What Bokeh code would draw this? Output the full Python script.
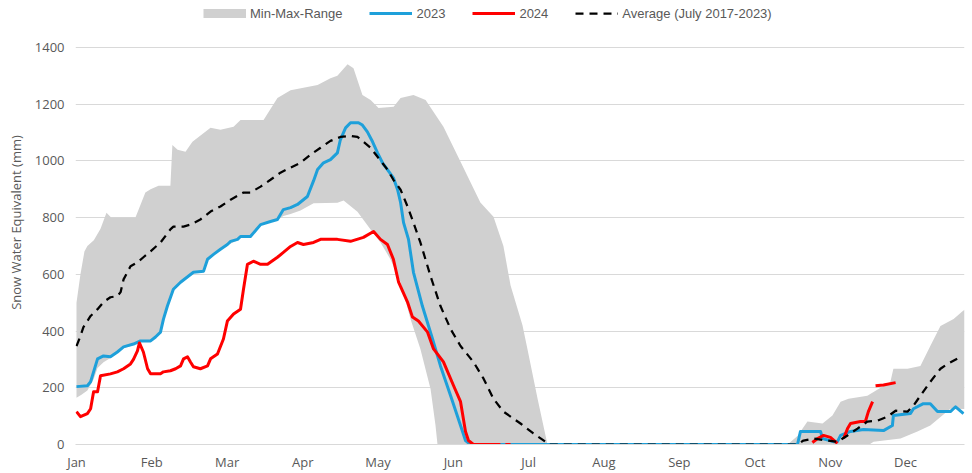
from bokeh.plotting import figure
from bokeh.models import Range1d, FixedTicker, Legend, LegendItem
from bokeh.embed import file_html
from bokeh.resources import INLINE
import numpy as np

# ---- data (x = day of year, 0 = 1 Jan; y = snow water equivalent, mm) ----
month_labels = ["Jan", "Feb", "Mar", "Apr", "May", "Jun", "Jul", "Aug", "Sep", "Oct", "Nov", "Dec"]
month_days = [0, 30.4, 60.8, 91.3, 121.7, 152.1, 182.5, 212.9, 243.3, 273.8, 304.2, 334.6]

# Min-Max range, winter/spring season
range1_up_day = [0, 1.6, 3.2, 4.4, 7, 9.7, 12.1, 14, 23.8, 27.8, 29.9, 33.1, 37.9, 38.7, 40.8, 44, 46.8,
                 54.1, 58.1, 63.4, 66.2, 75.5, 81.1, 86.4, 97.3, 102.5, 105.3, 109.4, 111.8, 115.4, 118.7,
                 121.9, 128, 130.8, 136, 140.9, 148.1, 155, 163, 168.3, 172.3, 175.2, 180, 182, 186.1, 189.3, 190.1]
range1_up = [500, 600, 680, 700, 720, 760, 817, 800, 800, 888, 900, 912, 912, 1056, 1039, 1032, 1067,
             1116, 1109, 1120, 1144, 1144, 1221, 1249, 1267, 1291, 1300, 1340, 1326, 1232, 1214,
             1186, 1190, 1221, 1232, 1214, 1120, 997, 853, 803, 700, 560, 420, 337, 161, 32, 0]
range1_lo_day = [0, 2, 4.4, 6.9, 8.5, 10.9, 13.7, 16.5, 19, 23, 25.8, 29.9, 31.9, 33.9, 35.1, 36.7, 39.1,
                 42, 47.2, 51.3, 52.9, 55.3, 58.1, 60.9, 65, 66.2, 70.2, 74.3, 78.3, 81.1, 83.5, 86.4,
                 90.4, 95.7, 105.3, 107.8, 113.4, 118.7, 122.7, 126.7, 130.8, 134.8, 138.8, 142.9, 144.9, 145.7]
range1_lo = [165, 175, 190, 230, 270, 290, 305, 322, 340, 350, 362, 362, 376, 393, 440, 485, 545,
             570, 604, 608, 650, 668, 686, 702, 720, 730, 730, 772, 783, 790, 805, 812,
             825, 850, 852, 860, 820, 758, 712, 653, 572, 442, 337, 196, 67, 0]

# Min-Max range, autumn/early-winter season
range2_up_day = [287, 291, 295, 301.1, 305.1, 308.4, 311.6, 319.2, 328.5, 329.7, 335.4, 340.6, 344.6,
                 348.7, 354, 357.6, 358.4]
range2_up = [0, 30, 81, 74, 102, 151, 161, 172, 221, 267, 267, 277, 347, 418, 442, 470, 475]
range2_lo_day = [287, 320, 321.7, 332.6, 339.4, 344.6, 352.7, 358.4]
range2_lo = [0, 0, 10, 21, 46, 67, 126, 125]

# 2023
y2023_day = [0, 4.4, 5.7, 6.9, 8.5, 10.9, 13.7, 16.5, 19, 23, 25.8, 29.9, 31.9, 33.9, 35.1, 36.7, 39.1,
             42, 47.2, 51.3, 52.9, 55.3, 58.1, 60.9, 62.2, 65, 66.2, 70.2, 74.3, 78.3, 81.1, 83.5, 86.4,
             89.2, 93.2, 95.7, 97.3, 99.7, 102.5, 105.3, 106.5, 108.6, 110.6, 113.8, 115.4, 117.4, 119.5,
             121.5, 123.5, 125.5, 127.9, 129.6, 130.8, 132, 134, 136, 139.6, 143.7, 146.9, 151, 155, 157,
             159, 291, 292.2, 300.3, 301.1, 305.5, 307.1, 308.4, 312.4, 317.6, 325.7, 329.3, 329.7, 336.6,
             337.8, 341.8, 344.6, 347.5, 352.7, 354.8, 358]
y2023 = [204, 207, 221, 256, 302, 312, 309, 326, 344, 354, 365, 365, 379, 396, 442, 488, 547,
         572, 607, 611, 653, 670, 688, 705, 716, 723, 733, 733, 775, 786, 793, 828, 835,
         846, 874, 930, 969, 993, 1004, 1028, 1074, 1116, 1134, 1134, 1126, 1102, 1067,
         1028, 993, 969, 940, 898, 853, 782, 723, 607, 488, 372, 277, 172, 67, 14,
         0, 0, 46, 46, 21, 10, 10, 32, 46, 53, 49, 67, 102, 109,
         126, 144, 144, 116, 116, 133, 109]

# 2024 (None = missing data)
y2024_day = [0, 1.6, 4.4, 5.7, 6.9, 8.5, 9.7, 13.7, 16.5, 19, 21.8, 23, 24.6, 25.4, 27, 28.7, 29.9, 33.9,
             35.1, 37.9, 40, 42, 43.2, 44.8, 46, 47.2, 50, 52.9, 54.1, 56.9, 59.3, 60.9, 63.4, 66.2, 67.4,
             69, 71.4, 74.3, 77.1, 81.1, 83.5, 86.4, 89.2, 91.6, 95.7, 98.5, 102.5, 105.3, 110.6, 115.8,
             119.9, 122.7, 125.5, 127.9, 130, 133.6, 135.6, 138, 141.7, 144.1, 148.1, 152.2, 155, 157,
             158.2, 160.2, 171.1, None, 173.1, 175.2, None,
             297, 299.1, 301.5, 304.3, 307.1, None, 309.6, 311.2, 312.4, 316.4, 318.4, 319.6, 321.3, None,
             322.5, 325.7, 330.6]
y2024 = [116, 98, 109, 126, 186, 186, 242, 249, 256, 267, 284, 300, 330, 358, 326, 267, 249, 249,
         256, 260, 267, 277, 302, 309, 291, 274, 267, 277, 302, 319, 372, 435, 460, 477, 547,
         635, 646, 635, 635, 660, 677, 698, 712, 705, 712, 723, 723, 723, 716, 730,
         751, 723, 705, 653, 572, 502, 449, 435, 396, 337, 291, 207, 151, 46,
         14, 0, 0, None, 0, 0, None,
         7, 21, 32, 25, 4, None, 21, 56, 74, 81, 81, 116, 151, None,
         207, 210, 218]

# Average (July 2017-2023)
avg_day = [0, 1.6, 2.8, 5.7, 8.5, 10.9, 13.7, 16.5, 17.8, 19, 21.8, 24.6, 27, 29.9, 33.9, 37.9, 39.1,
           43.2, 46, 50, 54.1, 58.1, 62.2, 67.4, 70.2, 74.3, 78.3, 82.3, 86.4, 90.4, 94.4, 98.5, 102.5,
           106.5, 110.6, 113.4, 115.8, 118.7, 121.5, 125.5, 127.9, 130.8, 133.6, 136, 138.8, 142.9,
           146.9, 151, 155, 160.2, 164.3, 168.3, 172.3, 179.2, 184.4, 189.3, 190.5, 291, 293.4, 297.5,
           303.1, 307.1, 311.2, 315.2, 319.2, 323.3, 327.3, 330.6, 335.4, 337.8, 340.6, 344.6, 348.7,
           351.5, 356.8]
avg = [347, 382, 414, 453, 477, 502, 519, 523, 537, 582, 628, 642, 660, 681, 712, 758, 768,
       768, 775, 793, 821, 839, 863, 888, 888, 909, 933, 958, 976, 993, 1021, 1046, 1070,
       1084, 1088, 1084, 1067, 1046, 1014, 969, 933, 898, 839, 782, 712, 593,
       488, 407, 347, 291, 232, 161, 116, 74, 39, 10, 0, 0, 14, 21,
       14, 10, 32, 56, 81, 84, 98, 119, 116, 137, 172, 221, 267,
       284, 309]

y_ticks = [0, 200, 400, 600, 800, 1000, 1200, 1400]

# ---- styling ----
GRAY_TXT = "#595959"
GRID = "#d9d9d9"
BAND = "#d0d0d0"
BLUE = "#1ea0da"
RED = "#ff0000"
TICK_FONT = "Open Sans"
LEG_FONT = "Liberation Sans"

# plot area: 1400 gridline sits 47 px below the top of a 446 px tall frame;
# the space above it holds the legend
Y_TOP = 1400 * 446 / 399


def nanify(v):
    return np.array([np.nan if a is None else a for a in v], dtype=float)


p = figure(width=972, height=473, x_range=Range1d(-0.4, 358.4), y_range=Range1d(0, Y_TOP),
           output_backend="svg", toolbar_location=None,
           min_border_left=75, min_border_right=8, min_border_top=0, min_border_bottom=27)
p.outline_line_color = None
p.background_fill_color = "white"
p.border_fill_color = "white"

# band patches (upper boundary forward, lower boundary reversed)
for ud, uv, ld, lv in [(range1_up_day, range1_up, range1_lo_day, range1_lo),
                       (range2_up_day, range2_up, range2_lo_day, range2_lo)]:
    xs = list(ud) + list(ld)[::-1]
    ys = list(uv) + list(lv)[::-1]
    p.patch(xs, ys, fill_color=BAND, line_color=None)

r23 = p.line(y2023_day, y2023, line_color=BLUE, line_width=3, line_join="round")
r24 = p.line(nanify(y2024_day), nanify(y2024), line_color=RED, line_width=3, line_join="round")
ravg = p.line(avg_day, avg, line_color="black", line_width=2.25, line_dash="8 6")
# legend-only swatch for the range (no visible data)
rband_leg = p.line(x=[np.nan], y=[np.nan], line_color=BAND, line_width=9, line_cap="butt")

# axes
p.xaxis.ticker = FixedTicker(ticks=month_days)
p.xaxis.major_label_overrides = {d: m for d, m in zip(month_days, month_labels)}
p.yaxis.ticker = FixedTicker(ticks=y_ticks)
for ax in (p.xaxis[0], p.yaxis[0]):
    ax.major_tick_line_color = None
    ax.minor_tick_line_color = None
    ax.major_label_text_font = TICK_FONT
    ax.major_label_text_font_size = "13px"
    ax.major_label_text_color = GRAY_TXT
p.xaxis.axis_label = None
p.xaxis.axis_line_color = GRID
p.yaxis.axis_line_color = None
p.xaxis.major_label_standoff = 2
p.yaxis.major_label_standoff = 5
p.yaxis.axis_label = "Snow Water Equivalent (mm)"
p.yaxis.axis_label_text_font = TICK_FONT
p.yaxis.axis_label_text_font_size = "13px"
p.yaxis.axis_label_text_font_style = "normal"
p.yaxis.axis_label_text_color = GRAY_TXT
p.yaxis.axis_label_standoff = 7

p.xgrid.grid_line_color = None
p.ygrid.grid_line_color = GRID
p.ygrid.grid_line_width = 1

legend = Legend(items=[LegendItem(label="Min-Max-Range", renderers=[rband_leg]),
                       LegendItem(label="2023", renderers=[r23]),
                       LegendItem(label="2024", renderers=[r24]),
                       LegendItem(label="Average (July 2017-2023)", renderers=[ravg])],
                orientation="horizontal", location=(128, 423))
legend.padding = 0
legend.margin = 0
legend.spacing = 27
legend.label_standoff = 4
legend.glyph_width = 43
legend.glyph_height = 16
legend.label_height = 16
legend.border_line_color = None
legend.background_fill_alpha = 0
legend.label_text_font = LEG_FONT
legend.label_text_font_size = "13px"
legend.label_text_color = GRAY_TXT
p.add_layout(legend, "center")

open("out.html", "w").write(file_html(p, INLINE))
